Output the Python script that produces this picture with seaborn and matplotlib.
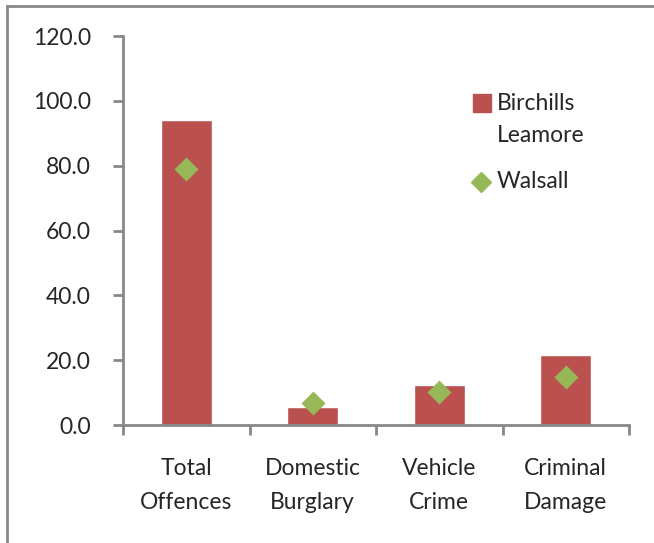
import pandas as pd
import matplotlib.pyplot as plt
import seaborn as sns
from matplotlib.patches import Rectangle
from matplotlib.lines import Line2D

categories = ["Total\nOffences", "Domestic\nBurglary", "Vehicle\nCrime", "Criminal\nDamage"]
birchills = [94.1, 5.6, 12.3, 21.6]
walsall = [79.1, 6.7, 10.3, 14.8]
yticks = [0, 20, 40, 60, 80, 100, 120]

RED = "#BA514E"
GREEN = "#97B856"
GRAY = "#888888"

sns.set_style("white")
plt.rcParams["font.family"] = ["Lato", "DejaVu Sans"]

df = pd.DataFrame({"category": categories, "Birchills\nLeamore": birchills, "Walsall": walsall})

W, H = 654, 543
fig = plt.figure(figsize=(W / 100, H / 100), dpi=100)
ax = fig.add_axes([123 / W, 1 - 425 / H, (629 - 123) / W, (425 - 36) / H])

sns.barplot(data=df, x="category", y="Birchills\nLeamore", color=RED, width=0.4,
            saturation=1, ax=ax)
sns.pointplot(data=df, x="category", y="Walsall", color=GREEN, markers="D",
              linestyle="none", markersize=10, ax=ax)

ax.set_ylim(0, 120)
ax.set_xlim(-0.5, 3.5)
ax.set_yticks(yticks)
ax.set_yticklabels([f"{v:.1f}" for v in yticks])
ax.set_xticks([-0.5, 0.5, 1.5, 2.5, 3.5], minor=True)
ax.set_xticks(range(len(categories)))
ax.set_xticklabels(categories, linespacing=1.75)
ax.set_xlabel("")
ax.set_ylabel("")

for side in ["top", "right"]:
    ax.spines[side].set_visible(False)
for side in ["left", "bottom"]:
    ax.spines[side].set_color(GRAY)
    ax.spines[side].set_linewidth(2)

ax.tick_params(axis="y", which="major", direction="out", length=7, width=2, color=GRAY,
               labelsize=16.5, pad=16, left=True)
ax.tick_params(axis="x", which="major", length=0, labelsize=16.5, pad=24)
ax.tick_params(axis="x", which="minor", direction="out", length=7, width=2, color=GRAY, bottom=True)

# legend drawn by hand: Excel puts the swatch next to the first line of the label
fig.add_artist(Line2D([482 / W], [1 - 103 / H], marker="s", linestyle="none",
                      color=RED, markersize=13, transform=fig.transFigure))
fig.text(497 / W, 1 - 103 / H, "Birchills", fontsize=16.5, va="center")
fig.text(497 / W, 1 - 135 / H, "Leamore", fontsize=16.5, va="center")
fig.add_artist(Line2D([481 / W], [1 - 182 / H], marker="D", linestyle="none",
                      color=GREEN, markersize=10, transform=fig.transFigure))
fig.text(497 / W, 1 - 182 / H, "Walsall", fontsize=16.5, va="center")

fig.patches.append(Rectangle((7 / W, -0.1), 2, 1.1 - 6 / H, transform=fig.transFigure,
                             fill=False, edgecolor=GRAY, linewidth=2))

fig.savefig("out.png", dpi=100)
